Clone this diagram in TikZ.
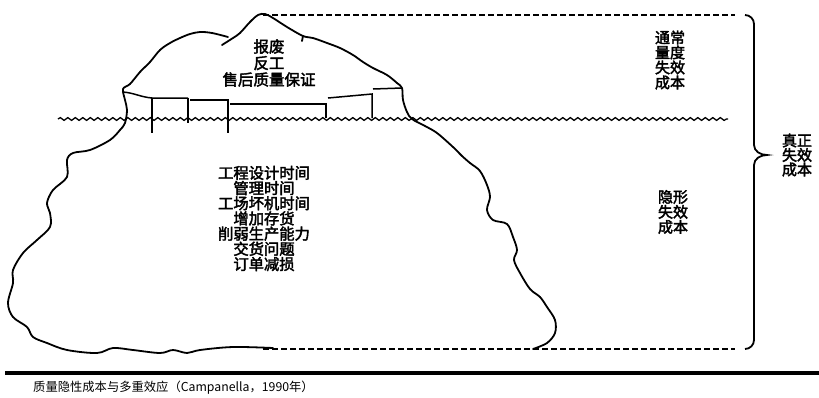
\documentclass[tikz,border=0pt]{standalone}
\usepackage{fontspec}
\usetikzlibrary{decorations.pathmorphing}
\newfontfamily\cjkb[AutoFakeBold=2.5]{Noto Sans CJK SC}
\newfontfamily\cjkr{Noto Sans CJK SC}
\tikzset{
  outline/.style={line width=1.8pt, line join=round, line cap=round},
  blockline/.style={line width=1.5pt},
  dashline/.style={line width=2.6pt, dash pattern=on 6pt off 3pt},
  wave/.style={line width=1.3pt, decorate, decoration={snake, segment length=7.5pt, amplitude=1.4pt}},
  lbl/.style={align=center, inner sep=0pt, font=\cjkb\bfseries\fontsize{15.3}{15.2}\selectfont},
}
\begin{document}
\begin{tikzpicture}[x=1pt,y=-1pt]
\useasboundingbox (0,0) rectangle (819,397);
% water line
\coordinate (wl) at (58,119);
\coordinate (wr) at (728,119);
\draw[wave] (wl) -- (wr);
% iceberg: right part (peak down to bottom right)
\draw[outline] plot[smooth, tension=0.55] coordinates {
 (222,45) (233,38) (240,33) (250,22) (258,15) (265,14) (273,18) (287,27) (303,36)
 (313,38) (327,43) (340,48) (353,55) (363,62) (373,68) (387,75) (397,83) (402,88)
 (403,100) (407,112) (412,119) (425,126) (437,133) (453,147) (462,156) (470,163)
 (480,171) (487,185) (490,197) (487,210) (493,220) (507,224) (513,237) (517,250)
 (514,260) (520,273) (530,289) (540,297) (547,307) (555,320) (555,333) (547,343) (533,349)};
% small notch on right slope
\draw[outline] (303,36) -- (302,41);
% iceberg: left part (bottom left up to left lobe)
\draw[outline] plot[smooth, tension=0.55] coordinates {
 (273,348) (233,347) (200,350) (187,353) (173,350) (160,353) (133,350) (113,348)
 (97,353) (67,350) (47,343) (33,337) (27,327) (13,317) (8,303) (13,283) (13,270)
 (23,253) (37,240) (50,227) (50,213) (47,203) (53,190) (67,177) (67,160) (73,153)
 (90,150) (110,140) (120,130) (125,123) (127,110) (125,100) (123,89) (130,84)
 (140,72) (150,62) (160,50) (170,43) (180,38) (190,34) (200,32) (212,33) (228,37)};
% blocks along the water line
\coordinate (b0) at (123,92);
\coordinate (b1) at (152,98);
\coordinate (b2) at (188,98);
\coordinate (b3) at (190,100);
\coordinate (b4) at (228,100);
\coordinate (b5) at (230,104);
\coordinate (b6) at (326,104);
\coordinate (b7) at (328,98);
\coordinate (b8) at (372,94);
\coordinate (b9) at (373,89);
\coordinate (b10) at (402,88);
\draw[blockline] (b0) to[out=-5,in=175] (b1) -- (b2);
\draw[blockline] (b1) -- (152,133);
\draw[blockline] (b2) -- (188,123);
\draw[blockline] (b3) -- (b4) -- (228,133);
\draw[blockline] (b5) -- (b6) -- (326,118);
\draw[blockline] (b7) -- (b8) -- (372,118);
\draw[blockline] (b9) -- (b10);
% dashed lines
\coordinate (dtl) at (263,15);
\coordinate (dtr) at (735,15);
\coordinate (dbl) at (263,349);
\coordinate (dbr) at (735,349);
\draw[dashline] (dtl) -- (dtr);
\draw[dashline] (dbl) -- (dbr);
% brace
\coordinate (brt) at (745,15);
\coordinate (brb) at (745,349);
\coordinate (brtip) at (767,155);
\draw[line width=1.8pt] (brt) to[out=0,in=90] (754,24) -- (754,145)
   to[out=-90,in=180] (brtip) to[out=180,in=90] (754,165) -- (754,340)
   to[out=-90,in=0] (brb);
% bottom rule
\coordinate (rl) at (5,373);
\coordinate (rr) at (819,373);
\draw[line width=3.5pt] (rl) -- (rr);
% texts
\node[lbl, font=\cjkb\bfseries\fontsize{15.5}{16.5}\selectfont] (top) at (269,63) {报废\\反工\\售后质量保证};
\node[lbl] (mid) at (264,218.5) {工程设计时间\\管理时间\\工场坏机时间\\增加存货\\削弱生产能力\\交货问题\\订单减损};
\node[lbl, font=\cjkb\bfseries\fontsize{15}{15}\selectfont] (usual) at (670,60) {通常\\量度\\失效\\成本};
\node[lbl, font=\cjkb\bfseries\fontsize{15}{15}\selectfont] (hidden) at (673,212) {隐形\\失效\\成本};
\node[lbl, font=\cjkb\bfseries\fontsize{15}{14.5}\selectfont] (true) at (797,155) {真正\\失效\\成本};
\node[anchor=west, inner sep=0pt, font=\cjkr\fontsize{12.3}{13}\selectfont] (cap) at (33,388)
  {质量隐性成本与多重效应（Campanella，1990年）};
\end{tikzpicture}
\end{document}
